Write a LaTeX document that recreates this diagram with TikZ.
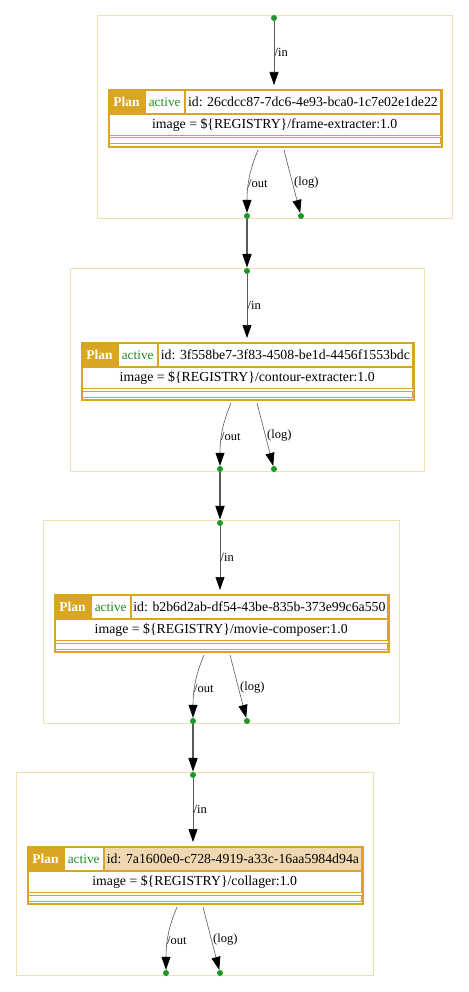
\documentclass[tikz,border=0pt]{standalone}
\usepackage{fontspec}
\setmainfont{Liberation Serif}
\usetikzlibrary{arrows.meta}
\definecolor{gold}{HTML}{DAA520}
\definecolor{clbord}{HTML}{F3E0B0}
\definecolor{dotgreen}{HTML}{1E962A}
\definecolor{actgreen}{HTML}{228B22}
\definecolor{idwheat}{HTML}{F0D9B0}
\tikzset{
  clusterbox/.style={draw=clbord, line width=1pt, anchor=north west, inner sep=0pt},
  outerbox/.style={draw=gold, line width=2pt, fill=white, anchor=north west, inner sep=0pt},
  cell/.style={draw=gold, line width=0.9pt, fill=white, anchor=north west, inner sep=0pt,
    font=\fontsize{13.8}{15}\selectfont},
  plancell/.style={cell, fill=gold, text=white, font=\fontsize{13.5}{15}\selectfont\bfseries},
  actcell/.style={cell, text=actgreen, font=\fontsize{13.3}{15}\selectfont},
  portdot/.style={circle, fill=dotgreen, inner sep=0pt, minimum size=6pt},
  lbl/.style={font=\fontsize{12.5}{14}\selectfont, inner sep=0pt},
  thinedge/.style={draw=black!65, line width=0.6pt, -{Triangle[length=13pt,width=9pt,color=black]}},
  thickedge/.style={draw=black!65, line width=2pt, -{Triangle[length=14pt,width=9pt,color=black]}}
}
\def\idfill{white}
\newcommand\plancluster[6]{%
  \def\CL{#2}\def\CT{#3}\def\CR{#4}%
  \pgfmathsetmacro\TL{\CL+10.5}\pgfmathsetmacro\TR{\CR-11}%
  \pgfmathsetmacro\TT{\CT+74}\pgfmathsetmacro\TW{\TR-\TL}%
  \pgfmathsetmacro\DX{\CL+177}%
  \node[clusterbox, minimum width={\CR-\CL}, minimum height=203] (#1cl) at (\CL,\CT) {};
  \node[portdot] (#1top) at (\DX,\CT+3) {};
  \node[portdot] (#1out) at (\CL+150,\CT+201) {};
  \node[portdot] (#1log) at (\CL+204,\CT+201) {};
  \node[outerbox, minimum width={\TW}, minimum height=57] (#1tab) at (\TL,\TT) {};
  \node[plancell, minimum width=35, minimum height=23] (#1plan) at (\TL+1,\TT+1) {Plan};
  \node[actcell, minimum width=38.5, minimum height=23] (#1act) at (\TL+37.5,\TT+1) {active};
  \node[cell, fill=\idfill, minimum width={\TW-78.5}, minimum height=23] (#1id) at (\TL+77.5,\TT+1) {#5};
  \node[cell, minimum width={\TW-2}, minimum height=21] (#1img) at (\TL+1,\TT+25) {#6};
  \node[cell, minimum width={\TW-2}, minimum height=6] (#1emp) at (\TL+1,\TT+48.5) {};
  \coordinate (#1ins) at (\DX,\TT-4);
  \coordinate (#1outs) at (\CL+161,\TT+61);
  \coordinate (#1logs) at (\CL+187,\TT+61);
  \draw[thinedge] (#1top) -- (#1ins);
  \draw[thinedge] (#1outs) .. controls (\CL+153,\TT+80) and (\CL+150,\TT+95) .. (#1out);
  \draw[thinedge] (#1logs) -- (#1log);
  \node[lbl, anchor=west] (#1inl) at (\DX+0.5,\CT+37) {/in};
  \node[lbl, anchor=west] (#1outl) at (\CL+151,\TT+94) {/out};
  \node[lbl, anchor=west] (#1logl) at (\CL+197,\TT+94) {(log)};
}
\begin{document}
\begin{tikzpicture}[x=1pt,y=-1pt]
  \useasboundingbox (0,0) rectangle (468,992);
  \plancluster{a}{97}{15}{452}{id: 26cdcc87-7dc6-4e93-bca0-1c7e02e1de22}{image = \$\{REGISTRY\}/frame-extracter:1.0}
  \plancluster{b}{70}{268}{424}{id: 3f558be7-3f83-4508-be1d-4456f1553bdc}{image = \$\{REGISTRY\}/contour-extracter:1.0}
  \plancluster{c}{43}{520}{399}{id: b2b6d2ab-df54-43be-835b-373e99c6a550}{image = \$\{REGISTRY\}/movie-composer:1.0}
  \def\idfill{idwheat}
  \plancluster{d}{16}{772}{373}{id: 7a1600e0-c728-4919-a33c-16aa5984d94a}{image = \$\{REGISTRY\}/collager:1.0}
  \draw[thickedge] (aout) -- (btop);
  \draw[thickedge] (bout) -- (ctop);
  \draw[thickedge] (cout) -- (dtop);
\end{tikzpicture}
\end{document}
